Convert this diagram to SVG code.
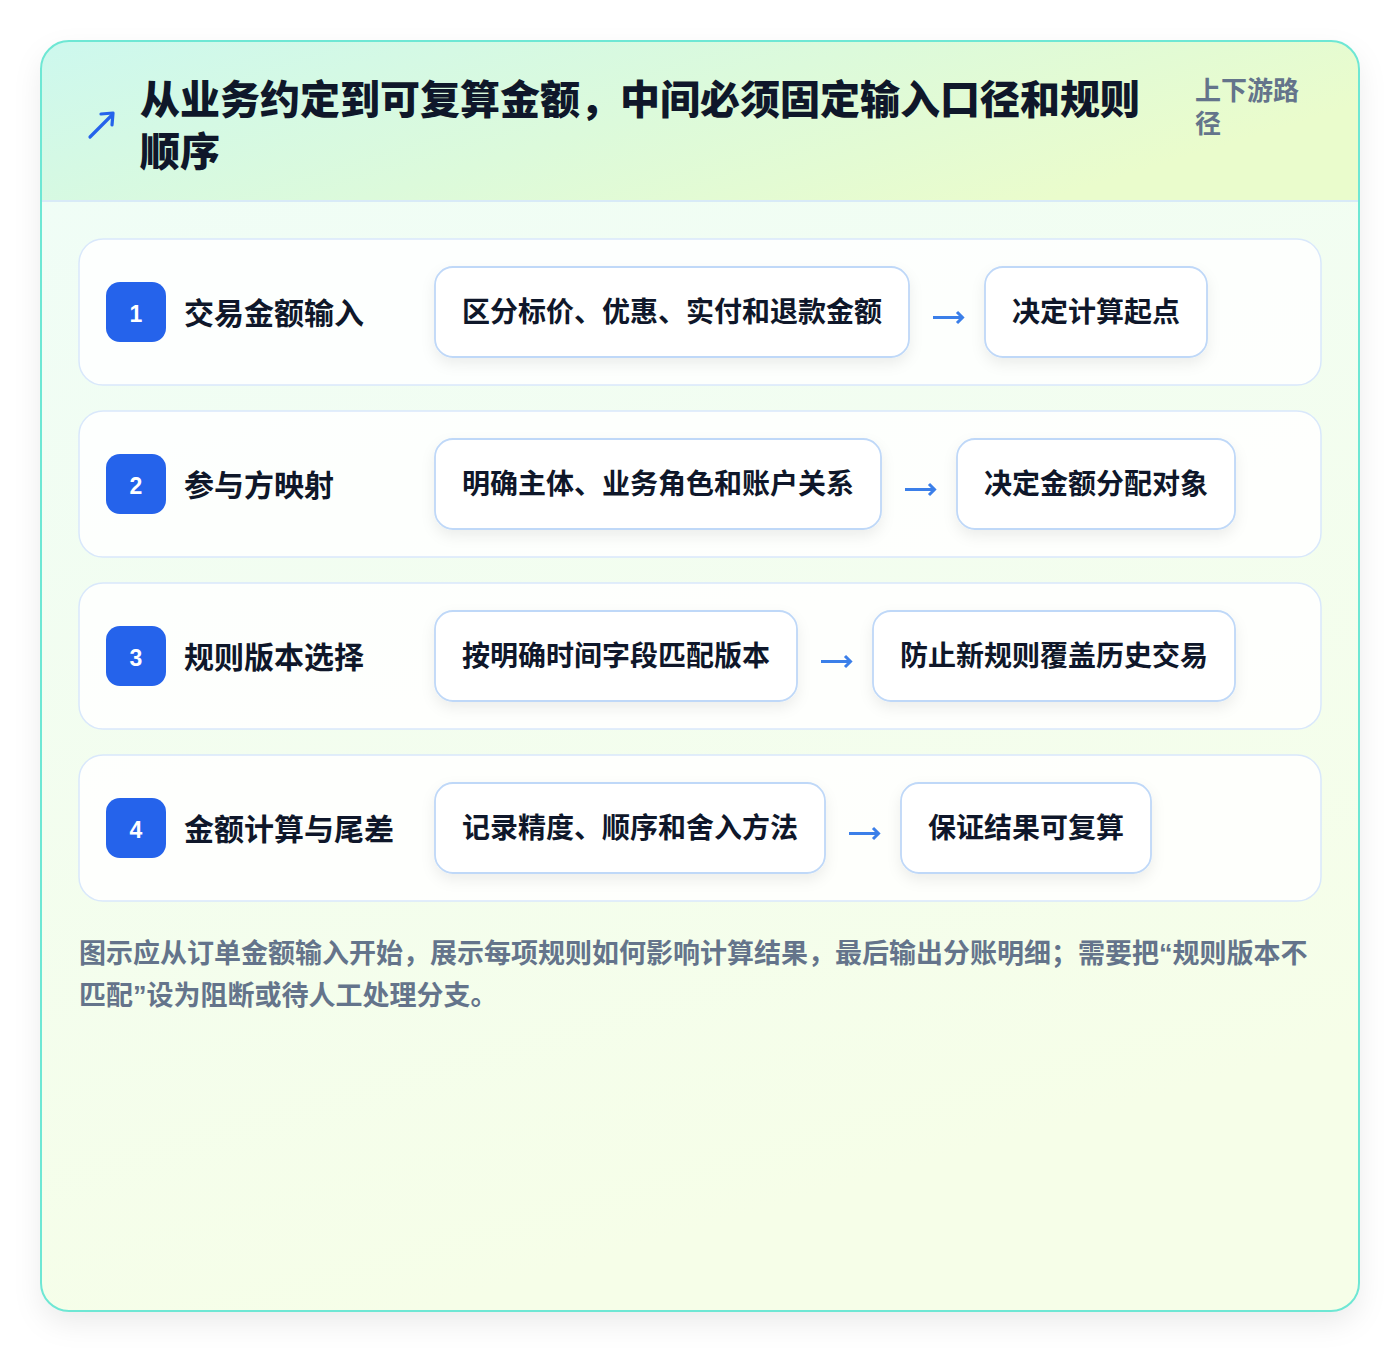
<svg xmlns="http://www.w3.org/2000/svg" width="1400" height="1352" viewBox="0 0 1400 1352">
<defs>
<linearGradient id="bodyG" x1="0" y1="0" x2="0.3" y2="1">
<stop offset="0" stop-color="#effdf8"/>
<stop offset="1" stop-color="#f6fee8"/>
</linearGradient>
<linearGradient id="headG" x1="0" y1="0" x2="1" y2="0.4">
<stop offset="0" stop-color="#cdf8ee"/>
<stop offset="0.55" stop-color="#dcfadb"/>
<stop offset="1" stop-color="#eafccc"/>
</linearGradient>
<clipPath id="cardClip"><rect x="41" y="41" width="1318" height="1270" rx="28"/></clipPath>
<filter id="cardShadow" x="-10%" y="-10%" width="120%" height="120%">
<feDropShadow dx="0" dy="12" stdDeviation="14" flood-color="#0f172a" flood-opacity="0.08"/>
</filter>
<filter id="boxShadow" x="-20%" y="-40%" width="140%" height="190%">
<feDropShadow dx="0" dy="6" stdDeviation="7" flood-color="#0f172a" flood-opacity="0.07"/>
</filter>
<style>
.row{fill:#ffffff;fill-opacity:0.85;stroke:#d9e8fb;stroke-width:1.5}
.badge{fill:#2563eb}
.badgeT{fill:#ffffff;font-family:"Liberation Sans","Noto Sans CJK SC",sans-serif;font-weight:700;font-size:23px;text-anchor:middle}
.lbl{fill:#0f172a;font-family:"Noto Sans CJK SC",sans-serif;font-weight:700;font-size:30px}
.box{fill:#ffffff;stroke:#bfd8f8;stroke-width:1.8;filter:url(#boxShadow)}
.boxT{fill:#0f172a;font-family:"Noto Sans CJK SC",sans-serif;font-weight:700;font-size:28px}
.arr{fill:none;stroke:#3b7fe9;stroke-width:3;stroke-linecap:butt;stroke-linejoin:miter}
.title{fill:#0f172a;font-family:"Noto Sans CJK SC",sans-serif;font-weight:900;font-size:40px}
.meta{fill:#64748b;font-family:"Noto Sans CJK SC",sans-serif;font-weight:700;font-size:26px}
.foot{fill:#64748b;font-family:"Noto Sans CJK SC",sans-serif;font-weight:700;font-size:27px}
.q{font-family:"Liberation Sans",sans-serif}
</style>
</defs>

<g id="card">
<rect x="41" y="41" width="1318" height="1270" rx="28" fill="url(#bodyG)" filter="url(#cardShadow)"/>
<g clip-path="url(#cardClip)">
<rect x="41" y="41" width="1318" height="160" fill="url(#headG)"/>
<line x1="41" y1="201" x2="1359" y2="201" stroke="#d8eaf7" stroke-width="2"/>
</g>
<rect x="41" y="41" width="1318" height="1270" rx="28" fill="none" stroke="#6ee7d4" stroke-width="2"/>
</g>

<g id="header">
<path d="M90 137 L112 115" fill="none" stroke="#2563eb" stroke-width="3.2" stroke-linecap="round"/>
<path d="M101 114 L113 113 L112 125" fill="none" stroke="#2563eb" stroke-width="3.2" stroke-linecap="round" stroke-linejoin="round"/>
<text class="title" x="140" y="114">从业务约定到可复算金额，中间必须固定输入口径和规则</text>
<text class="title" x="140" y="166">顺序</text>
<text class="meta" x="1195" y="100">上下游路</text>
<text class="meta" x="1195" y="133">径</text>
</g>

<g id="row1">
<rect class="row" x="79" y="239" width="1242" height="146" rx="24"/>
<rect class="badge" x="106" y="282" width="60" height="60" rx="14"/>
<text class="badgeT" x="136" y="322">1</text>
<text class="lbl" x="184" y="324">交易金额输入</text>
</g>
<g id="row1a"><rect class="box" x="435" y="267" width="474" height="90" rx="18"/><text class="boxT" x="462" y="322">区分标价、优惠、实付和退款金额</text></g>
<g id="row1b"><rect class="box" x="985" y="267" width="222" height="90" rx="18"/><text class="boxT" x="1012" y="322">决定计算起点</text></g>

<g id="row2">
<rect class="row" x="79" y="411" width="1242" height="146" rx="24"/>
<rect class="badge" x="106" y="454" width="60" height="60" rx="14"/>
<text class="badgeT" x="136" y="494">2</text>
<text class="lbl" x="184" y="496">参与方映射</text>
</g>
<g id="row2a"><rect class="box" x="435" y="439" width="446" height="90" rx="18"/><text class="boxT" x="462" y="494">明确主体、业务角色和账户关系</text></g>
<g id="row2b"><rect class="box" x="957" y="439" width="278" height="90" rx="18"/><text class="boxT" x="984" y="494">决定金额分配对象</text></g>

<g id="row3">
<rect class="row" x="79" y="583" width="1242" height="146" rx="24"/>
<rect class="badge" x="106" y="626" width="60" height="60" rx="14"/>
<text class="badgeT" x="136" y="666">3</text>
<text class="lbl" x="184" y="668">规则版本选择</text>
</g>
<g id="row3a"><rect class="box" x="435" y="611" width="362" height="90" rx="18"/><text class="boxT" x="462" y="666">按明确时间字段匹配版本</text></g>
<g id="row3b"><rect class="box" x="873" y="611" width="362" height="90" rx="18"/><text class="boxT" x="900" y="666">防止新规则覆盖历史交易</text></g>

<g id="row4">
<rect class="row" x="79" y="755" width="1242" height="146" rx="24"/>
<rect class="badge" x="106" y="798" width="60" height="60" rx="14"/>
<text class="badgeT" x="136" y="838">4</text>
<text class="lbl" x="184" y="840">金额计算与尾差</text>
</g>
<g id="row4a"><rect class="box" x="435" y="783" width="390" height="90" rx="18"/><text class="boxT" x="462" y="838">记录精度、顺序和舍入方法</text></g>
<g id="row4b"><rect class="box" x="901" y="783" width="250" height="90" rx="18"/><text class="boxT" x="928" y="838">保证结果可复算</text></g>

<g id="connectors">
<path class="arr" d="M933 317.5 H962 M957 312 L962.5 317.5 L957 323"/>
<path class="arr" d="M905 489.5 H934 M929 484 L934.5 489.5 L929 495"/>
<path class="arr" d="M821 661.5 H850 M845 656 L850.5 661.5 L845 667"/>
<path class="arr" d="M849 833.5 H878 M873 828 L878.5 833.5 L873 839"/>
</g>

<g id="footer">
<text class="foot" x="79" y="963">图示应从订单金额输入开始，展示每项规则如何影响计算结果，最后输出分账明细；需要把<tspan class="q">“</tspan>规则版本不</text>
<text class="foot" x="79" y="1005">匹配<tspan class="q">”</tspan>设为阻断或待人工处理分支。</text>
</g>
</svg>
